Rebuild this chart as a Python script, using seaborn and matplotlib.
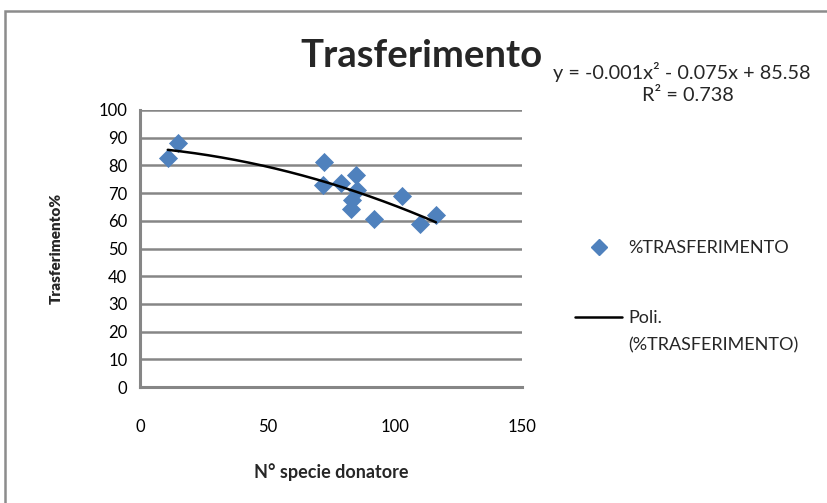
import numpy as np
import pandas as pd
import matplotlib
matplotlib.use("Agg")
import matplotlib.pyplot as plt
from matplotlib.patches import Rectangle
from matplotlib.lines import Line2D
import seaborn as sns

# Number of donor species vs. transfer percentage
n_specie = [10.9, 15.0, 72.4, 72.0, 78.9, 84.7, 85.1, 83.1, 82.8, 92.0, 103.0, 109.9, 116.2]
trasferimento = [82.6, 88.0, 81.3, 73.1, 73.5, 76.7, 71.1, 67.5, 64.2, 60.6, 69.0, 58.8, 62.2]

x_ticks = [0, 50, 100, 150]
y_ticks = [0, 10, 20, 30, 40, 50, 60, 70, 80, 90, 100]

df = pd.DataFrame({"x": n_specie, "y": trasferimento})

sns.set_theme(style="white")
plt.rcParams["font.family"] = ["Lato", "DejaVu Sans"]

W, H = 828, 503
fig = plt.figure(figsize=(W / 100, H / 100), dpi=100)
ax = fig.add_axes([140 / W, 1 - 387 / H, (522 - 140) / W, (387 - 110) / H])

grid_col = "#868686"
blue = "#4F81BD"

# Outer chart frame (top and left edges visible)
fig.patches.append(Rectangle((5.5 / W, -0.1), 1.2, 1.1 - 11.5 / H,
                             transform=fig.transFigure, fill=False,
                             edgecolor="#8c8c8c", linewidth=1.8, zorder=0))

sns.scatterplot(data=df, x="x", y="y", marker="D", s=95, color=blue,
                edgecolor=blue, linewidth=0, ax=ax, zorder=3, legend=False)

# Second-order polynomial trend line
coef = np.polyfit(df["x"], df["y"], 2)
xs = np.linspace(df["x"].min(), df["x"].max(), 200)
sns.lineplot(x=xs, y=np.polyval(coef, xs), color="black", linewidth=1.8,
             ax=ax, zorder=4, legend=False)

ax.set_xlim(0, 150)
ax.set_ylim(0, 100)
ax.set_xticks(x_ticks)
ax.set_yticks(y_ticks)
ax.set_xticklabels([str(v) for v in x_ticks], fontsize=12)
ax.set_yticklabels([str(v) for v in y_ticks], fontsize=12)
ax.tick_params(axis="both", colors=grid_col, length=5, width=1.8, direction="out",
               labelcolor="black")
ax.tick_params(axis="x", pad=18)
ax.tick_params(axis="y", pad=4)

for v in y_ticks[1:]:
    ax.axhline(v, color=grid_col, linewidth=1.8, zorder=1)
for side in ["top", "right"]:
    ax.spines[side].set_visible(False)
for side in ["left", "bottom"]:
    ax.spines[side].set_color(grid_col)
    ax.spines[side].set_linewidth(2.2)

ax.set_xlabel("N° specie donatore", fontsize=13, fontweight="bold", labelpad=20)
ax.set_ylabel("Trasferimento%", fontsize=11, fontweight="heavy", labelpad=26)

fig.text(300 / W, 1 - 67 / H, "Trasferimento", fontsize=27.5, fontweight="bold",
         ha="left", va="baseline")
fig.text(553 / W, 1 - 79 / H, "y = -0.001x² - 0.075x + 85.58", fontsize=14.3,
         ha="left", va="baseline")
fig.text(688 / W, 1 - 101 / H, "R² = 0.738", fontsize=14.3, ha="center",
         va="baseline")

handles = [
    Line2D([], [], marker="D", linestyle="none", markersize=8, color=blue),
    Line2D([], [], color="black", linewidth=1.8),
]
leg = fig.legend(handles, ["%TRASFERIMENTO", "Poli."],
                 loc="upper left", bbox_to_anchor=(568 / W, 1 - 233 / H),
                 frameon=False, fontsize=13, handlelength=2.6,
                 labelspacing=3.0, handletextpad=0.35, borderaxespad=0)
fig.text(628 / W, 1 - 345 / H, "(%TRASFERIMENTO)", fontsize=13,
         ha="left", va="center")

fig.savefig("out.png", dpi=100, facecolor="white")
